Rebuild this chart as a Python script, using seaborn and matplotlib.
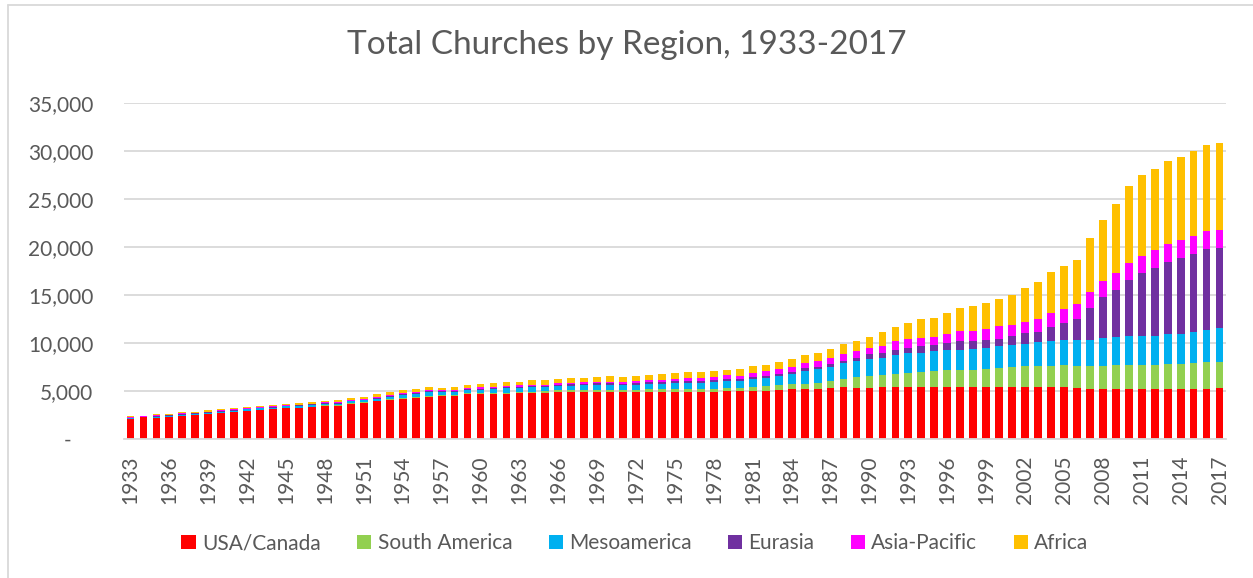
import numpy as np
import pandas as pd
import matplotlib
matplotlib.use("Agg")
import matplotlib.pyplot as plt
from matplotlib.patches import Patch
from matplotlib.lines import Line2D
import seaborn as sns

years = list(range(1933, 2018))

usa_canada = [
    2010, 2220, 2190, 2290, 2400, 2500, 2600, 2710, 2810, 2920,
    3020, 3060, 3230, 3230, 3330, 3440, 3440, 3660, 3770, 3890,
    4060, 4170, 4290, 4380, 4480, 4500, 4690, 4690, 4690, 4710,
    4790, 4790, 4800, 4890, 4900, 4900, 4900, 4900, 4900, 4900,
    4900, 4900, 4900, 4900, 4900, 4900, 4960, 4960, 4960, 5000,
    5070, 5140, 5140, 5170, 5280, 5380, 5310, 5310, 5350, 5350,
    5350, 5350, 5350, 5350, 5350, 5350, 5350, 5350, 5350, 5350,
    5350, 5350, 5350, 5310, 5210, 5210, 5140, 5140, 5140, 5140,
    5140, 5140, 5140, 5210, 5310,
]
south_america = [
    10, 5, 10, 10, 10, 10, 10, 15, 15, 15,
    15, 20, 20, 20, 25, 25, 30, 30, 35, 40,
    45, 50, 55, 60, 60, 65, 70, 75, 80, 90,
    95, 110, 130, 140, 150, 170, 200, 210, 210, 220,
    240, 270, 280, 290, 310, 320, 330, 350, 450, 520,
    520, 530, 590, 660, 760, 870, 1110, 1220, 1290, 1420,
    1530, 1630, 1700, 1800, 1840, 1850, 1940, 2050, 2120, 2190,
    2200, 2260, 2330, 2300, 2330, 2400, 2540, 2540, 2540, 2540,
    2600, 2670, 2740, 2740, 2710,
]
mesoamerica = [
    90, 30, 100, 90, 80, 100, 110, 100, 110, 120,
    120, 130, 110, 140, 150, 160, 170, 190, 190, 250,
    270, 330, 320, 380, 300, 330, 330, 360, 410, 450,
    420, 490, 450, 450, 490, 490, 490, 490, 450, 490,
    520, 560, 590, 630, 630, 690, 730, 690, 830, 800,
    940, 1110, 1320, 1420, 1460, 1630, 1670, 1800, 1770, 1910,
    2010, 1980, 2050, 2050, 2080, 2150, 2190, 2220, 2290, 2360,
    2500, 2570, 2640, 2710, 2780, 2850, 2920, 2990, 2990, 3060,
    3130, 3130, 3260, 3370, 3470,
]
eurasia = [
    90, 40, 90, 60, 70, 60, 60, 80, 80, 70,
    70, 80, 70, 80, 70, 80, 80, 70, 80, 100,
    90, 100, 100, 110, 90, 100, 100, 100, 120, 120,
    120, 140, 140, 140, 170, 140, 170, 170, 170, 240,
    210, 170, 210, 240, 210, 170, 170, 210, 210, 210,
    240, 210, 280, 240, 280, 240, 350, 490, 490, 560,
    590, 690, 630, 730, 870, 800, 760, 800, 900, 1080,
    1110, 1420, 1700, 2120, 3330, 4270, 4930, 5900, 6560, 7080,
    7600, 7850, 8130, 8470, 8400,
]
asia_pacific = [
    40, 30, 60, 40, 90, 50, 50, 60, 60, 50,
    50, 90, 60, 80, 90, 80, 100, 110, 90, 110,
    120, 130, 135, 120, 100, 110, 110, 120, 130, 140,
    130, 100, 70, 140, 140, 170, 170, 170, 210, 170,
    210, 240, 210, 240, 310, 310, 420, 350, 420, 560,
    450, 520, 520, 620, 620, 730, 690, 660, 800, 900,
    870, 900, 900, 1010, 1040, 1040, 1150, 1350, 1220, 1220,
    1350, 1530, 1530, 1630, 1670, 1670, 1770, 1700, 1840, 1880,
    1880, 1940, 1880, 1880, 1910,
]
africa = [
    80, 35, 90, 80, 100, 90, 120, 125, 120, 130,
    130, 130, 125, 165, 150, 175, 175, 190, 195, 230,
    240, 290, 290, 330, 280, 295, 290, 320, 370, 415,
    345, 490, 520, 490, 450, 450, 490, 560, 490, 520,
    560, 590, 660, 630, 630, 690, 590, 660, 690, 630,
    730, 760, 830, 830, 940, 1040, 1080, 1150, 1390, 1490,
    1670, 1910, 1940, 2190, 2400, 2670, 2740, 2810, 3090, 3540,
    3780, 4200, 4410, 4550, 5630, 6420, 7190, 8060, 8470, 8440,
    8650, 8650, 8820, 8920, 9030,
]

series_names = ["USA/Canada", "South America", "Mesoamerica", "Eurasia", "Asia-Pacific", "Africa"]
series_values = [usa_canada, south_america, mesoamerica, eurasia, asia_pacific, africa]
colors = ["#FF0000", "#92D050", "#00B0F0", "#7030A0", "#FF00FF", "#FFC000"]

year_labels = [str(y) for y in years]
df = pd.DataFrame({name: vals for name, vals in zip(series_names, series_values)})
df["year"] = year_labels
cum = df[series_names].cumsum(axis=1)

text_color = "#595959"
grid_color = "#D9D9D9"

sns.set_theme(style="white")
plt.rcParams["font.family"] = ["Lato", "DejaVu Sans"]

fig = plt.figure(figsize=(12.53, 5.78), dpi=100)
ax = fig.add_axes([124 / 1253, 1 - 438.7 / 578, (1226 - 124) / 1253, (438.7 - 103) / 578])

for name, color in reversed(list(zip(series_names, colors))):
    plot_df = pd.DataFrame({"year": year_labels, "value": cum[name].values})
    sns.barplot(data=plot_df, x="year", y="value", order=year_labels, color=color,
                saturation=1, width=0.6, errorbar=None, ax=ax, zorder=3,
                linewidth=0)

ax.set_xlim(-0.5, len(years) - 0.5)
ax.set_ylim(0, 35000)
yt = list(range(0, 35001, 5000))
ax.set_yticks(yt)
ax.set_yticklabels(["-    "] + [f"{v:,}" for v in yt[1:]], fontsize=15, color=text_color)
ax.yaxis.grid(True, color=grid_color, linewidth=1.3, zorder=0)
ax.set_axisbelow(True)
ax.set_xticks(range(0, len(years), 3))
ax.set_xticklabels(year_labels[::3], rotation=90, fontsize=15, color=text_color)
ax.tick_params(axis="both", length=0)
ax.tick_params(axis="x", pad=12)
ax.tick_params(axis="y", pad=22)
ax.set_xlabel("")
ax.set_ylabel("")
for s in ["top", "right", "left"]:
    ax.spines[s].set_visible(False)
ax.spines["bottom"].set_color(grid_color)
ax.spines["bottom"].set_linewidth(1.3)
ax.spines["bottom"].set_zorder(4)

fig.text(0.5, 1 - 45 / 578, "Total Churches by Region, 1933-2017", ha="center", va="center",
         fontsize=24, color=text_color)

handles = [Patch(facecolor=c, edgecolor="none", label=n) for n, c in zip(series_names, colors)]
fig.legend(handles=handles, loc="center", bbox_to_anchor=(635 / 1253, 1 - 543 / 578), ncol=6,
           frameon=False, fontsize=15, handlelength=0.68, handleheight=0.68,
           handletextpad=0.3, columnspacing=1.75, labelcolor=text_color)

fig.add_artist(Line2D([7.5 / 1253, 7.5 / 1253], [0, 1 - 4.5 / 578], transform=fig.transFigure,
                      color=grid_color, linewidth=1.3))
fig.add_artist(Line2D([7.5 / 1253, 1], [1 - 4.5 / 578, 1 - 4.5 / 578], transform=fig.transFigure,
                      color=grid_color, linewidth=1.3))

fig.savefig("out.png", dpi=100, facecolor="white")
